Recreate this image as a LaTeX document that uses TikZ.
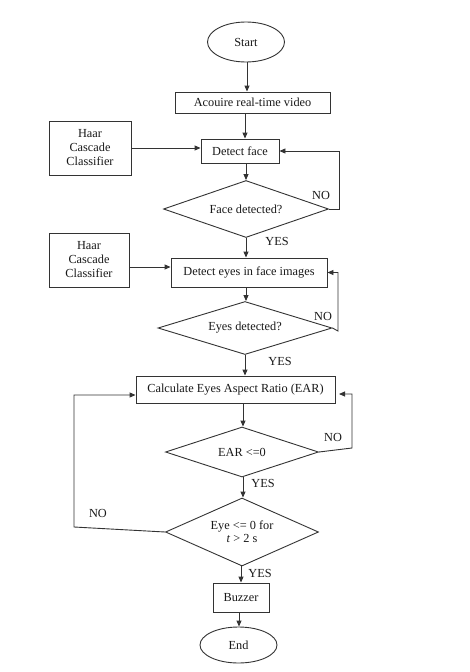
\documentclass[tikz,border=0pt]{standalone}
\usepackage{fontspec}
\setmainfont{Liberation Serif}
\usetikzlibrary{shapes.geometric,arrows.meta,calc}
\begin{document}
\begin{tikzpicture}[x=1pt,y=-1pt,
  every node/.style={font=\fontsize{12.3}{15}\selectfont, text=black!90},
  ln/.style={draw=black!80, line width=0.9pt},
  arr/.style={ln, -{Triangle[length=6pt,width=5pt]}},
  boxn/.style={ln, rectangle, inner sep=0pt},
  ovaln/.style={ln, ellipse, inner sep=0pt},
  dia/.style={ln, diamond, inner sep=0pt},
  lbl/.style={inner sep=0pt}
]
\useasboundingbox (0,0) rectangle (470,672);
\fill[white] (0,0) rectangle (470,672);

\node[ovaln, minimum width=77pt, minimum height=40pt] (start) at (246,42) {Start};
\node[boxn, minimum width=155pt, minimum height=21pt] (acq) at (252.5,102.5) {Acouire real-time video};
\node[boxn, minimum width=78pt, minimum height=24pt] (face) at (240,151) {Detect face};
\node[dia, shape aspect=2.9, minimum width=165pt, minimum height=57pt] (fd) at (246,209) {Face detected?};
\node[boxn, minimum width=82pt, minimum height=54pt, align=center] (haar1) at (90,148) {Haar\\[-1pt]Cascade\\[-1pt]Classifier};
\node[boxn, minimum width=80pt, minimum height=54pt, align=center] (haar2) at (89,260) {Haar\\[-1pt]Cascade\\[-1pt]Classifier};
\node[boxn, minimum width=156pt, minimum height=29pt] (eyes) at (249,272.5) {Detect eyes in face images};
\node[dia, shape aspect=3.2, minimum width=174pt, minimum height=53pt] (ed) at (245,328) {Eyes detected?};
\node[boxn, minimum width=199pt, minimum height=27pt] (calc) at (235.5,389.5) {Calculate Eyes Aspect Ratio (EAR)};
\node[dia, shape aspect=3, minimum width=153pt, minimum height=50pt] (ear) at (242,452) {EAR <=0};
\node[dia, shape aspect=2.25, minimum width=153pt, minimum height=68pt, align=center] (eye) at (242,532) {Eye <= 0 for\\[-2pt]\textit{t} > 2 s};
\node[boxn, minimum width=56pt, minimum height=29pt] (buzz) at (241,597.5) {Buzzer};
\node[ovaln, minimum width=77pt, minimum height=36pt] (end) at (238.5,645) {End};

% main flow
\draw[arr] (start.south -| 247,0) -- (acq.north -| 247,0);
\draw[arr] (acq.south -| 245,0) -- (face.north -| 245,0);
\draw[arr] (face.south -| 246,0) -- (fd.north);
\draw[arr] (fd.south) -- (eyes.north -| fd.south);
\draw[arr] (eyes.south -| 246,0) -- (ed.north -| 246,0);
\draw[arr] (ed.south) -- (calc.north -| ed.south);
\draw[arr] (calc.south -| 243,0) -- (ear.north -| 243,0);
\draw[arr] (ear.south -| 243,0) -- (eye.north -| 243,0);
\draw[arr] (eye.south -| 241,0) -- (buzz.north -| 241,0);
\draw[arr] (buzz.south -| 239,0) -- (end.north -| 239,0);

% classifier inputs
\draw[arr] (haar1.east) -- (face.west |- haar1.east);
\draw[arr] (haar2.east |- 0,267) -- (eyes.west |- 0,267);

% NO loops
\draw[arr] (fd.east) -- (339,209) |- (face.east);
\draw[arr] (ed.east) -- (338,331) |- (eyes.east);
\coordinate (earback) at (339,394);
\draw[arr] (ear.east) -- (352,448) -- (352,394) -- (earback);
\draw[arr] (eye.west) -- (74,527) -- (74,395) -- (calc.west |- 0,395);

% labels
\node[lbl] at (321,195) {NO};
\node[lbl] at (323,316) {NO};
\node[lbl] at (333,437) {NO};
\node[lbl] at (98,513) {NO};
\node[lbl] at (277,241) {YES};
\node[lbl] at (280,361) {YES};
\node[lbl] at (263,483) {YES};
\node[lbl] at (260,573) {YES};
\end{tikzpicture}
\end{document}
